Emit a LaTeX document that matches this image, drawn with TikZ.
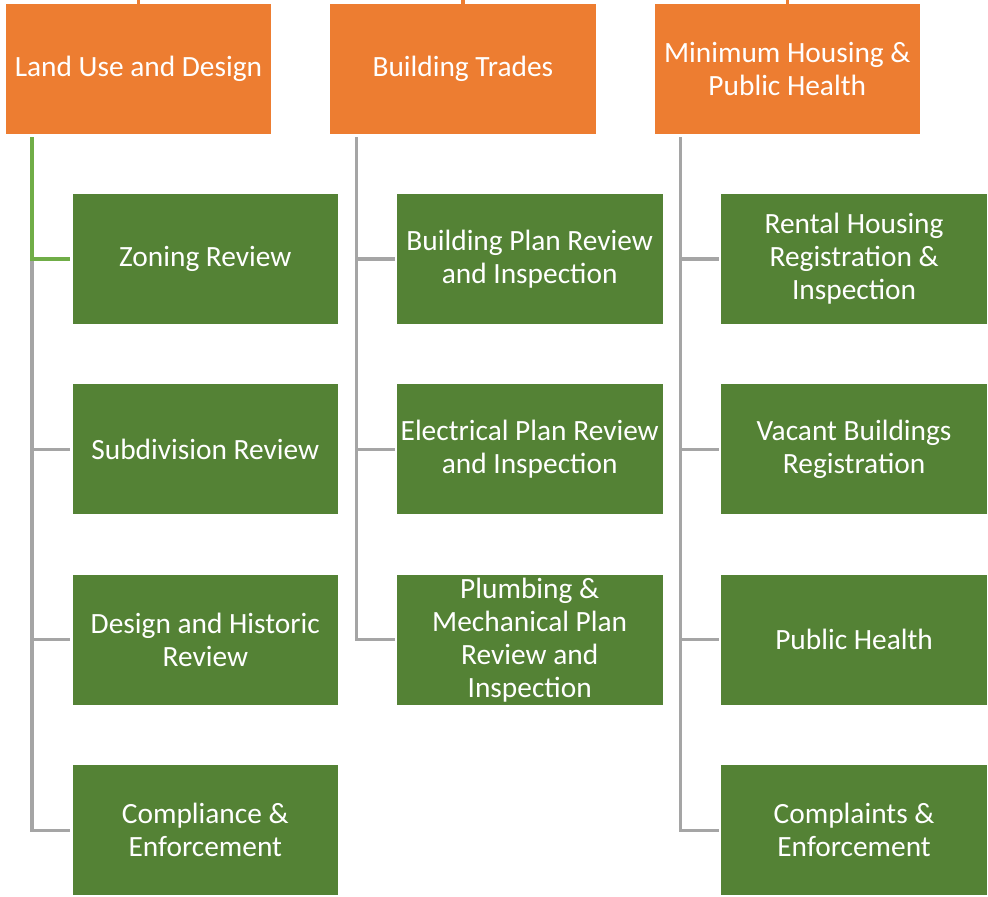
\documentclass[tikz,border=0pt]{standalone}
\usepackage{fontspec}
\setmainfont{Carlito}
\usetikzlibrary{positioning,calc}
\definecolor{hdorange}{HTML}{ED7D31}
\definecolor{itemgreen}{HTML}{548235}
\definecolor{linkgray}{HTML}{A5A5A5}
\definecolor{linkgreen}{HTML}{70AD47}

\begin{document}
\begin{tikzpicture}[node distance=4.76cm,line join=miter]
  \tikzstyle{head}=[rectangle,fill=hdorange,text=white,minimum width=6.64cm,minimum height=3.25cm,inner sep=0pt,align=center,font=\fontsize{20.9}{23.5}\selectfont]
  \tikzstyle{item}=[rectangle,fill=itemgreen,text=white,minimum width=6.64cm,minimum height=3.25cm,inner sep=0pt,align=center,font=\fontsize{20.9}{23.5}\selectfont]
  \tikzstyle{link}=[draw=linkgray,line width=2.3pt]
  \tikzstyle{stub}=[draw=hdorange,line width=2.3pt]
  \useasboundingbox (0,0) rectangle (24.7,-22.425);

  % section heads
  \node[head] (LU) at (3.4625,-1.725)                  {Land Use and Design};
  \node[head] (BT) [right of=LU, node distance=8.11cm] {Building Trades};
  \node[head] (MH) [right of=BT, node distance=8.11cm] {Minimum Housing \&\\Public Health};

  % land use and design
  \node[item] (ZR) [below of=LU, node distance=4.75cm, xshift=1.67cm] {Zoning Review};
  \node[item] (SR) [below of=ZR] {Subdivision Review};
  \node[item] (DH) [below of=SR] {Design and Historic\\Review};
  \node[item] (CE) [below of=DH] {Compliance \&\\Enforcement};

  % building trades
  \node[item] (BP) [below of=BT, node distance=4.75cm, xshift=1.67cm] {Building Plan Review\\and Inspection};
  \node[item] (EP) [below of=BP] {Electrical Plan Review\\and Inspection};
  \node[item] (PM) [below of=EP] {Plumbing \&\\Mechanical Plan\\Review and\\Inspection};

  % minimum housing
  \node[item] (RH) [below of=MH, node distance=4.75cm, xshift=1.67cm] {Rental Housing\\Registration \&\\Inspection};
  \node[item] (VB) [below of=RH] {Vacant Buildings\\Registration};
  \node[item] (PH) [below of=VB] {Public Health};
  \node[item] (CP) [below of=PH] {Complaints \&\\Enforcement};

  % trunks
  \coordinate (LUt) at ($(LU.south west)!0.1!(LU.south east)+(0,-0.075)$);
  \coordinate (BTt) at ($(BT.south west)!0.1!(BT.south east)+(0,-0.075)$);
  \coordinate (MHt) at ($(MH.south west)!0.1!(MH.south east)+(0,-0.075)$);
  \coordinate (LUu) at ($(LU.north)+(0,0.1)$);
  \coordinate (BTu) at ($(BT.north)+(0,0.1)$);
  \coordinate (MHu) at ($(MH.north)+(0,0.1)$);

  \path[stub] (LU.north) -- (LUu)
              (BT.north) -- (BTu)
              (MH.north) -- (MHu);

  \path[link] (LUt) |- ([xshift=-0.05cm]CE.west)
              (LUt |- SR.west) -- ([xshift=-0.05cm]SR.west)
              (LUt |- DH.west) -- ([xshift=-0.05cm]DH.west);
  \path[link,draw=linkgreen] (LUt) |- ([xshift=-0.05cm]ZR.west);

  \path[link] (BTt) |- ([xshift=-0.05cm]PM.west)
              (BTt |- BP.west) -- ([xshift=-0.05cm]BP.west)
              (BTt |- EP.west) -- ([xshift=-0.05cm]EP.west);

  \path[link] (MHt) |- ([xshift=-0.05cm]CP.west)
              (MHt |- RH.west) -- ([xshift=-0.05cm]RH.west)
              (MHt |- VB.west) -- ([xshift=-0.05cm]VB.west)
              (MHt |- PH.west) -- ([xshift=-0.05cm]PH.west);
\end{tikzpicture}
\end{document}
